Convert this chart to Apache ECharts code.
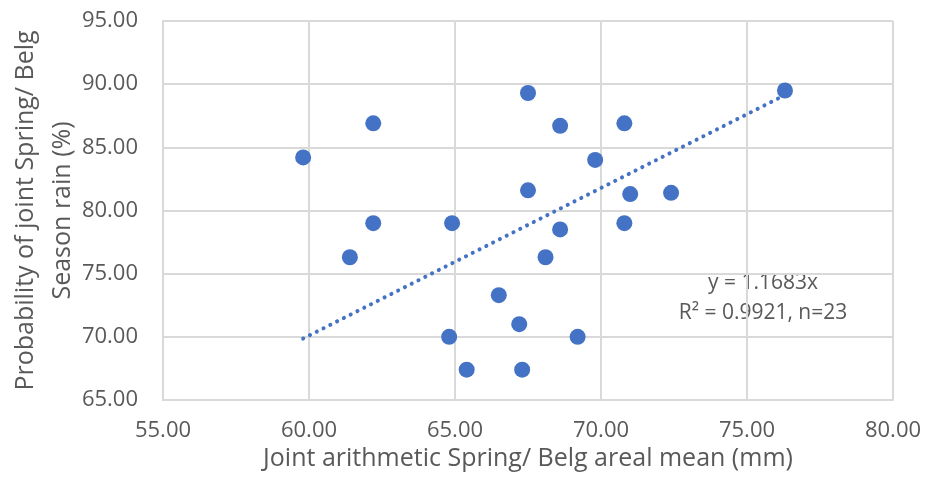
<!DOCTYPE html>
<html>
<head>
<meta charset="utf-8">
<script src="https://cdn.jsdelivr.net/npm/echarts@6/dist/echarts.min.js"></script>
<style>
  html, body { margin: 0; padding: 0; background: #ffffff; }
  #chart { width: 925px; height: 488px; }
</style>
</head>
<body>
<div id="chart"></div>
<script>
// Joint arithmetic Spring/Belg areal mean (mm)
const arealMean = [59.8, 62.2, 62.2, 61.4, 64.9, 64.8, 65.4, 66.5, 67.2, 67.3, 67.5,
                   67.5, 68.6, 68.6, 68.1, 69.2, 69.8, 70.8, 71.0, 70.8, 72.4, 76.3];
// Probability of joint Spring/Belg season rain (%)
const probability = [84.2, 86.9, 79.0, 76.3, 79.0, 70.0, 67.4, 73.3, 71.0, 67.4, 89.3,
                     81.6, 86.7, 78.5, 76.3, 70.0, 84.0, 86.9, 81.3, 79.0, 81.4, 89.5];
// Trend line through the origin
const slope = 1.1683;
const rSquared = 0.9921;
const sampleSize = 23;
const xTicks = [55, 80, 5];
const yTicks = [65, 95, 5];

const points = arealMean.map((x, i) => [x, probability[i]]);
const xMin = Math.min(...arealMean);
const xMax = Math.max(...arealMean);
const trend = [[xMin, slope * xMin], [xMax, slope * xMax]];

const font = 'Open Sans';
const grey = '#595959';
const gridCol = '#d9d9d9';

const chart = echarts.init(document.getElementById('chart'));
chart.setOption({
  backgroundColor: '#ffffff',
  animation: false,
  grid: { left: 163, right: 32, top: 21, bottom: 88, containLabel: false, outerBoundsMode: 'none' },
  xAxis: {
    type: 'value',
    min: xTicks[0], max: xTicks[1], interval: xTicks[2],
    name: 'Joint arithmetic Spring/ Belg areal mean (mm)',
    nameLocation: 'middle', nameGap: 46, nameMoveOverlap: false,
    nameTextStyle: { fontFamily: font, fontSize: 25, color: grey },
    axisLine: { show: true, lineStyle: { color: gridCol, width: 2 } },
    axisTick: { show: false },
    axisLabel: { fontFamily: font, fontSize: 22, color: grey, margin: 20,
                 formatter: v => v.toFixed(2) },
    splitLine: { show: true, lineStyle: { color: gridCol, width: 2 } }
  },
  yAxis: {
    type: 'value',
    min: yTicks[0], max: yTicks[1], interval: yTicks[2],
    name: 'Probability of joint Spring/ Belg\nSeason rain (%)',
    nameLocation: 'middle', nameGap: 82, nameMoveOverlap: false,
    nameTextStyle: { fontFamily: font, fontSize: 25, color: grey, lineHeight: 37 },
    axisLine: { show: true, lineStyle: { color: gridCol, width: 2 } },
    axisTick: { show: false },
    axisLabel: { fontFamily: font, fontSize: 22, color: grey, margin: 25,
                 formatter: v => v.toFixed(2) },
    splitLine: { show: true, lineStyle: { color: gridCol, width: 2 } }
  },
  series: [
    {
      type: 'line',
      data: trend,
      symbol: 'none',
      lineStyle: { color: '#4472c4', width: 4, type: [0.1, 7.5], cap: 'round' },
      z: 2
    },
    {
      type: 'scatter',
      data: points,
      symbol: 'circle',
      symbolSize: 16,
      itemStyle: { color: '#4472c4', opacity: 1 },
      z: 3
    }
  ],
  graphic: [
    {
      type: 'text',
      x: 763, y: 298,
      style: {
        text: 'y = ' + slope.toFixed(4) + 'x\nR² = ' + rSquared.toFixed(4) + ', n=' + sampleSize,
        align: 'center', verticalAlign: 'middle',
        font: '21px "Open Sans"', fill: grey, lineHeight: 30
      }
    }
  ]
});
</script>
</body>
</html>
